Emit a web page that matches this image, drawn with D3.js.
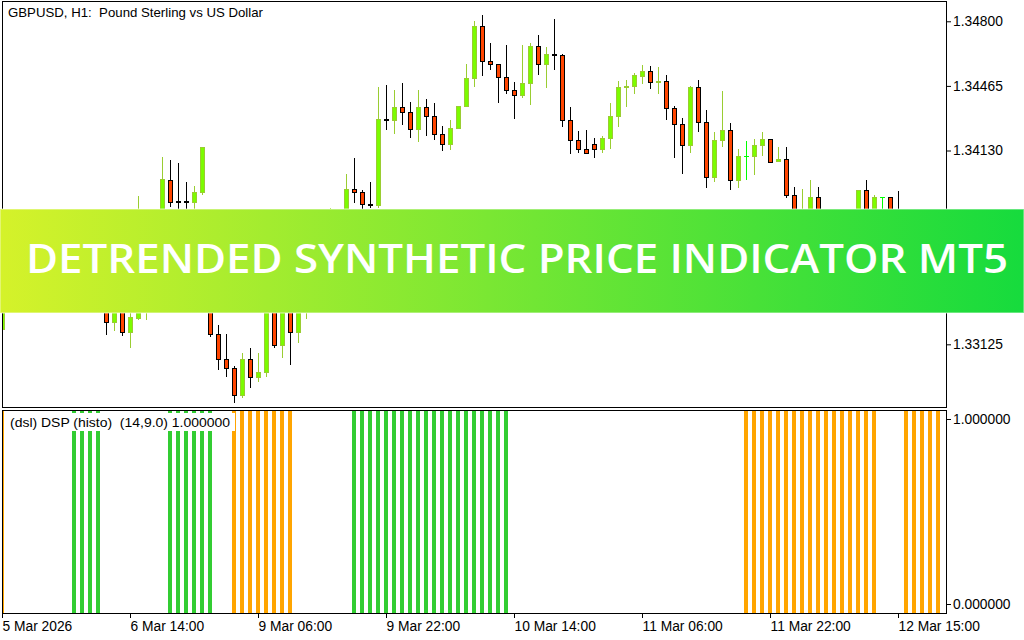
<!DOCTYPE html>
<html>
<head>
<meta charset="utf-8">
<script src="https://cdn.jsdelivr.net/npm/d3@7/dist/d3.min.js"></script>
<style>
  body { margin: 0; background: #fff; }
  svg { display: block; }
  text { white-space: pre; }
</style>
</head>
<body>
<div id="chart"></div>
<script>
/**
 * CONSTANTS AND GLOBALS
 * */
const width = 1024,
    height = 640,
    fontUI = "'Liberation Sans', Arial, sans-serif";

// panes of the terminal window
const mainPane = { left: 2.5, right: 946.5, top: 1.5, bottom: 407.5 },
    subPane = { left: 2.5, right: 946.5, top: 410.5, bottom: 613.5 };

/**
 * DATA (GBPUSD H1)
 * */
const timeTickIdx = [0, 16, 32, 48, 64, 80, 96, 112];
const timeTickLabels = ["5 Mar 2026", "6 Mar 14:00", "9 Mar 06:00", "9 Mar 22:00",
    "10 Mar 14:00", "11 Mar 06:00", "11 Mar 22:00", "12 Mar 15:00"];

// 1.33795 and 1.33460 sit under the banner, so only the visible ones are kept
const priceTicks = [1.34800, 1.34465, 1.34130, 1.33125];
const dspTicks = [0, 1];

const opens = [
    1.33204, 1.33407, 1.33344, 1.33396, 1.33329, 1.33376, 1.33438, 1.33407, 1.33479, 1.33552,
    1.33624, 1.33588, 1.33531, 1.33433, 1.33239, 1.33355, 1.33187, 1.33263, 1.33562, 1.33666,
    1.33770, 1.33977, 1.33866, 1.33866, 1.33865, 1.33913, 1.33459, 1.33179, 1.33047, 1.33001,
    1.32861, 1.33047, 1.32954, 1.32980, 1.33355, 1.33120, 1.33329, 1.33187, 1.33355, 1.33510,
    1.33640, 1.33573, 1.33744, 1.33790, 1.33929, 1.33913, 1.33852, 1.33846, 1.34293, 1.34287,
    1.34354, 1.34328, 1.34240, 1.34354, 1.34307, 1.34214, 1.34162, 1.34245, 1.34359, 1.34504,
    1.34774, 1.34593, 1.34577, 1.34510, 1.34442, 1.34416, 1.34478, 1.34670, 1.34577, 1.34628,
    1.34624, 1.34287, 1.34183, 1.34136, 1.34162, 1.34136, 1.34193, 1.34307, 1.34458, 1.34463,
    1.34515, 1.34541, 1.34484, 1.34489, 1.34349, 1.34266, 1.34157, 1.34458, 1.34276, 1.33991,
    1.34183, 1.34235, 1.33975, 1.34100, 1.34100, 1.34157, 1.34188, 1.34074, 1.34084, 1.33898,
    1.33744, 1.33796, 1.33887, 1.33744, 1.33692, 1.33739, 1.33666, 1.33759, 1.33924, 1.33770,
    1.33887, 1.33887, 1.33749, 1.33676, 1.33604, 1.33645, 1.33552, 1.33614
];
const highs = [
    1.33459, 1.33433, 1.33417, 1.33412, 1.33391, 1.33464, 1.33479, 1.33500, 1.33588, 1.33656,
    1.33666, 1.33614, 1.33552, 1.33459, 1.33381, 1.33376, 1.33355, 1.33894, 1.33707, 1.33811,
    1.34098, 1.34081, 1.34067, 1.33967, 1.33946, 1.34147, 1.33484, 1.33225, 1.33179, 1.33013,
    1.33080, 1.33104, 1.33080, 1.33381, 1.33407, 1.33365, 1.33381, 1.33407, 1.33552, 1.33676,
    1.33692, 1.33830, 1.33816, 1.34008, 1.34091, 1.33924, 1.33965, 1.34458, 1.34470, 1.34444,
    1.34480, 1.34381, 1.34444, 1.34397, 1.34376, 1.34255, 1.34287, 1.34359, 1.34579, 1.34800,
    1.34833, 1.34686, 1.34577, 1.34677, 1.34484, 1.34677, 1.34686, 1.34729, 1.34665, 1.34812,
    1.34629, 1.34356, 1.34230, 1.34235, 1.34195, 1.34204, 1.34376, 1.34492, 1.34496, 1.34533,
    1.34573, 1.34568, 1.34561, 1.34520, 1.34361, 1.34297, 1.34466, 1.34496, 1.34340, 1.34226,
    1.34439, 1.34273, 1.34138, 1.34179, 1.34190, 1.34226, 1.34188, 1.34148, 1.34148, 1.33941,
    1.33930, 1.33977, 1.33941, 1.33796, 1.33770, 1.33759, 1.33796, 1.33924, 1.33977, 1.33899,
    1.33887, 1.33887, 1.33918, 1.33718, 1.33676, 1.33666, 1.33640, 1.33645
];
const lows = [
    1.33194, 1.33313, 1.33324, 1.33303, 1.33308, 1.33355, 1.33376, 1.33386, 1.33459, 1.33531,
    1.33552, 1.33500, 1.33407, 1.33180, 1.33201, 1.33175, 1.33113, 1.33258, 1.33255, 1.33640,
    1.33744, 1.33844, 1.33801, 1.33811, 1.33832, 1.33903, 1.33170, 1.32999, 1.32962, 1.32827,
    1.32850, 1.32905, 1.32936, 1.32962, 1.33111, 1.33061, 1.33025, 1.33139, 1.33263, 1.33459,
    1.33536, 1.33536, 1.33666, 1.33728, 1.33865, 1.33830, 1.33835, 1.33835, 1.34243, 1.34222,
    1.34269, 1.34202, 1.34181, 1.34212, 1.34191, 1.34134, 1.34139, 1.34245, 1.34359, 1.34466,
    1.34523, 1.34554, 1.34383, 1.34430, 1.34300, 1.34406, 1.34373, 1.34528, 1.34461, 1.34554,
    1.34259, 1.34119, 1.34124, 1.34115, 1.34098, 1.34124, 1.34145, 1.34259, 1.34362, 1.34430,
    1.34482, 1.34456, 1.34430, 1.34292, 1.34098, 1.34015, 1.34124, 1.34233, 1.33942, 1.33973,
    1.34155, 1.33932, 1.33942, 1.33984, 1.34010, 1.34105, 1.34069, 1.34074, 1.33887, 1.33728,
    1.33707, 1.33759, 1.33707, 1.33624, 1.33614, 1.33573, 1.33635, 1.33718, 1.33728, 1.33739,
    1.33796, 1.33707, 1.33645, 1.33573, 1.33573, 1.33510, 1.33521, 1.33500
];
const closes = [
    1.33407, 1.33344, 1.33396, 1.33329, 1.33376, 1.33438, 1.33407, 1.33479, 1.33552, 1.33624,
    1.33588, 1.33531, 1.33433, 1.33239, 1.33355, 1.33187, 1.33265, 1.33562, 1.33666, 1.33770,
    1.33982, 1.33865, 1.33865, 1.33865, 1.33913, 1.34147, 1.33177, 1.33047, 1.33001, 1.32861,
    1.33047, 1.32954, 1.32980, 1.33355, 1.33120, 1.33329, 1.33187, 1.33355, 1.33510, 1.33640,
    1.33573, 1.33744, 1.33796, 1.33929, 1.33913, 1.33851, 1.33851, 1.34292, 1.34292, 1.34354,
    1.34328, 1.34240, 1.34354, 1.34307, 1.34214, 1.34162, 1.34245, 1.34359, 1.34504, 1.34774,
    1.34593, 1.34577, 1.34510, 1.34442, 1.34416, 1.34478, 1.34670, 1.34577, 1.34629, 1.34627,
    1.34287, 1.34183, 1.34136, 1.34115, 1.34136, 1.34193, 1.34307, 1.34458, 1.34463, 1.34520,
    1.34542, 1.34484, 1.34489, 1.34349, 1.34266, 1.34157, 1.34458, 1.34276, 1.33991, 1.34183,
    1.34235, 1.33975, 1.34100, 1.34100, 1.34157, 1.34188, 1.34069, 1.34084, 1.33898, 1.33759,
    1.33811, 1.33887, 1.33744, 1.33692, 1.33739, 1.33666, 1.33759, 1.33924, 1.33770, 1.33887,
    1.33887, 1.33744, 1.33676, 1.33604, 1.33645, 1.33552, 1.33614, 1.33531
];

// DSP histogram state per bar: 1 = up (green), -1 = down (orange), 0 = empty
const dspHisto = [
    -1, 0, 0, 0, 0, 0, 0, 0, 0, 1,
    1, 1, 1, 0, 0, 0, 0, 0, 0, 0,
    0, 1, 1, 1, 1, 1, 1, 0, 0, -1,
    -1, -1, -1, -1, -1, -1, -1, 0, 0, 0,
    0, 0, 0, 0, 1, 1, 1, 1, 1, 1,
    1, 1, 1, 1, 1, 1, 1, 1, 1, 1,
    1, 1, 1, 1, 0, 0, 0, 0, 0, 0,
    0, 0, 0, 0, 0, 0, 0, 0, 0, 0,
    0, 0, 0, 0, 0, 0, 0, 0, 0, 0,
    0, 0, 0, -1, -1, -1, -1, -1, -1, -1,
    -1, -1, -1, -1, -1, -1, -1, -1, -1, -1,
    0, 0, 0, -1, -1, -1, -1, -1
];

const titleText = "GBPUSD, H1:  Pound Sterling vs US Dollar";
const dspLabel = "(dsl) DSP (histo)  (14,9.0) 1.000000";
const bannerText = "DETRENDED SYNTHETIC PRICE INDICATOR MT5";

/**
 * SCALES
 * */
const x = d3.scaleLinear().domain([0, 118]).range([2, 946]);
const yMain = d3.scaleLinear().domain([1.3280, 1.3490]).range([407, 2]);
const ySub = d3.scaleLinear().domain([0, 1]).range([604, 419]);

const svg = d3.select("#chart")
    .append("svg")
    .attr("width", width)
    .attr("height", height)
    .style("font-family", fontUI);

svg.append("rect").attr("width", width).attr("height", height).attr("fill", "#fff");

const defs = svg.append("defs");
defs.append("clipPath").attr("id", "clip-main")
    .append("rect")
    .attr("x", mainPane.left + 0.5).attr("y", mainPane.top + 0.5)
    .attr("width", mainPane.right - mainPane.left - 1)
    .attr("height", mainPane.bottom - mainPane.top - 1);
defs.append("clipPath").attr("id", "clip-sub")
    .append("rect")
    .attr("x", subPane.left + 0.5).attr("y", subPane.top + 0.5)
    .attr("width", subPane.right - subPane.left - 1)
    .attr("height", subPane.bottom - subPane.top - 1);

/**
 * CANDLES
 * */
const candles = opens.map((o, i) => ({ i, o, h: highs[i], l: lows[i], c: closes[i] }));

const candleG = svg.append("g").attr("clip-path", "url(#clip-main)");

const kind = d => d.c > d.o ? "bull" : d.c < d.o ? "bear" : "doji";
const wickColor = { bull: "#9acd32", bear: "#000", doji: "#00ff00" };

const bar = candleG.selectAll("g.candle")
    .data(candles)
    .join("g")
    .attr("class", "candle");

bar.append("line")
    .attr("x1", d => Math.round(x(d.i)) + 0.5)
    .attr("x2", d => Math.round(x(d.i)) + 0.5)
    .attr("y1", d => Math.round(yMain(d.h)))
    .attr("y2", d => Math.round(yMain(d.l)) + 1)
    .attr("stroke", d => wickColor[kind(d)])
    .attr("stroke-width", 1);

// bodies of real candles
bar.filter(d => kind(d) !== "doji")
    .append("rect")
    .attr("x", d => Math.round(x(d.i)) - 2 + 0.5)
    .attr("width", 4)
    .attr("y", d => Math.round(yMain(Math.max(d.o, d.c))) + 0.5)
    .attr("height", d => Math.max(Math.round(yMain(Math.min(d.o, d.c))) - Math.round(yMain(Math.max(d.o, d.c))), 1))
    .attr("fill", d => kind(d) === "bull" ? "#7cfc00" : "#ff4500")
    .attr("stroke", d => kind(d) === "bull" ? "#9acd32" : "#000")
    .attr("stroke-width", 1);

// open == close -> flat line
bar.filter(d => kind(d) === "doji")
    .append("line")
    .attr("x1", d => Math.round(x(d.i)) - 2)
    .attr("x2", d => Math.round(x(d.i)) + 3)
    .attr("y1", d => Math.round(yMain(d.c)) + 0.5)
    .attr("y2", d => Math.round(yMain(d.c)) + 0.5)
    .attr("stroke", "#00ff00");

/**
 * DSP HISTOGRAM
 * */
const histG = svg.append("g").attr("clip-path", "url(#clip-sub)");
histG.selectAll("rect")
    .data(dspHisto.map((v, i) => ({ i, v })).filter(d => d.v !== 0))
    .join("rect")
    .attr("x", d => Math.round(x(d.i)) - 2)
    .attr("width", 4)
    .attr("y", subPane.top)
    .attr("height", subPane.bottom - subPane.top)
    .attr("fill", d => d.v > 0 ? "#32cd32" : "#ffa500");

// indicator label with its white box
svg.append("rect")
    .attr("x", 8).attr("y", 413)
    .attr("width", 227).attr("height", 18)
    .attr("fill", "#fff");
svg.append("text")
    .attr("x", 10).attr("y", 427)
    .attr("font-size", 13)
    .attr("fill", "#000")
    .attr("textLength", 220)
    .attr("lengthAdjust", "spacingAndGlyphs")
    .text(dspLabel);

/**
 * FRAMES AND AXES
 * */
[mainPane, subPane].forEach(p => {
    svg.append("rect")
        .attr("x", p.left).attr("y", p.top)
        .attr("width", p.right - p.left).attr("height", p.bottom - p.top)
        .attr("fill", "none").attr("stroke", "#000").attr("stroke-width", 1);
});

function styleAxis(g) {
    g.select(".domain").remove();
    g.attr("font-family", fontUI).attr("font-size", 13.8);
    g.selectAll(".tick line").attr("stroke", "#000");
    g.selectAll(".tick text").attr("fill", "#000");
}

svg.append("g")
    .attr("transform", `translate(${mainPane.right - 0.5},0)`)
    .call(d3.axisRight(yMain).tickValues(priceTicks).tickFormat(d3.format(".5f")).tickSize(5).tickPadding(2))
    .call(styleAxis);

svg.append("g")
    .attr("transform", `translate(${subPane.right - 0.5},0)`)
    .call(d3.axisRight(ySub).tickValues(dspTicks).tickFormat(d3.format(".6f")).tickSize(5).tickPadding(2))
    .call(styleAxis);

svg.append("g")
    .attr("transform", `translate(0,${subPane.bottom - 0.5})`)
    .call(d3.axisBottom(x).tickValues(timeTickIdx).tickFormat((d, i) => timeTickLabels[i]).tickSize(5).tickPadding(3))
    .call(styleAxis)
    .call(g => g.selectAll(".tick text").attr("text-anchor", "start"));

// chart title
svg.append("text")
    .attr("x", 8).attr("y", 17)
    .attr("font-size", 13)
    .attr("fill", "#000")
    .attr("textLength", 255)
    .attr("lengthAdjust", "spacingAndGlyphs")
    .text(titleText);

/**
 * BANNER
 * */
const grad = defs.append("linearGradient").attr("id", "banner-grad")
    .attr("x1", "0%").attr("x2", "100%").attr("y1", "0%").attr("y2", "0%");
grad.append("stop").attr("offset", "0%").attr("stop-color", "#d5f22a");
grad.append("stop").attr("offset", "100%").attr("stop-color", "#16db3d");

svg.append("rect")
    .attr("x", 0).attr("y", 209)
    .attr("width", width).attr("height", 104)
    .attr("fill", "url(#banner-grad)");
svg.append("rect")
    .attr("x", 0).attr("y", 209)
    .attr("width", width).attr("height", 104)
    .attr("fill", "none")
    .attr("stroke", "#fff").attr("stroke-opacity", 0.45).attr("stroke-width", 1.5);

svg.append("text")
    .attr("x", 26).attr("y", 273)
    .attr("font-family", "'Open Sans', Lato, sans-serif")
    .attr("font-weight", 600)
    .attr("font-size", 39)
    .attr("fill", "#fff")
    .attr("textLength", 982)
    .attr("lengthAdjust", "spacingAndGlyphs")
    .text(bannerText);
</script>
</body>
</html>
